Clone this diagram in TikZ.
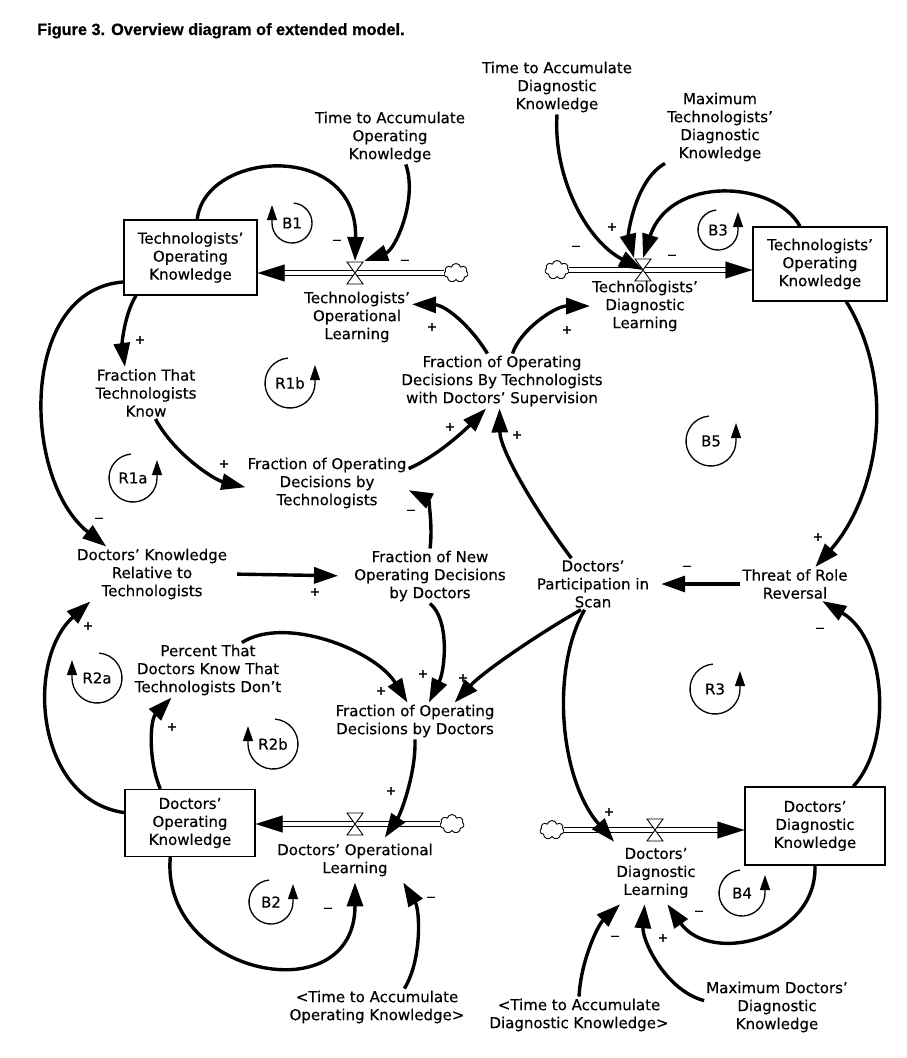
\documentclass[tikz,border=0pt]{standalone}
\usepackage{fontspec}
\setmainfont{DejaVu Sans}[FakeBold=0.35]
\newfontfamily\bodyfont{DejaVu Sans}[FakeBold=0.35,Ligatures=TeX]
\newfontfamily\titlefont{Liberation Sans Bold}[FakeBold=0.6]
\usetikzlibrary{arrows.meta,shapes.symbols,calc}
\begin{document}
\begin{tikzpicture}[x=1pt,y=-1pt,
  txt/.style={align=center, inner sep=2pt, font=\bodyfont\fontsize{15}{18}\selectfont},
  stock/.style={draw, line width=1.3pt, align=center, inner sep=0pt, font=\bodyfont\fontsize{15}{18}\selectfont},
  link/.style={line width=3.4pt, -{Triangle[length=24pt,width=16pt]}},
  pipe/.style={draw=black, double=white, double distance=3.6pt, line width=1.3pt, shorten >=24pt},
  pipetip/.style={draw=white, line width=0.3pt, -{Triangle[length=27pt,width=17pt,color=black]}},
  valve/.style={minimum width=18pt, minimum height=24pt, inner sep=0pt, outer sep=0pt,
    path picture={\draw[line width=.9pt, fill=white]
      ([shift={(1,1)}]path picture bounding box.north west) --
      ([shift={(-1,1)}]path picture bounding box.north east) --
      ([shift={(1,-1)}]path picture bounding box.south west) --
      ([shift={(-1,-1)}]path picture bounding box.south east) -- cycle;}},
  cloudy/.style={cloud, cloud puffs=7, aspect=1.3, draw, fill=white, line width=.9pt,
    minimum width=24pt, minimum height=19pt, inner sep=0pt},
  sgn/.style={font=\bodyfont\fontsize{12.5}{12.5}\selectfont, inner sep=0pt},
  looparc/.style={line width=1.3pt, -{Triangle[length=15pt,width=10pt]}},
  looplab/.style={font=\bodyfont\fontsize{15}{18}\selectfont, inner sep=0pt}
]
\path[fill=white] (0,0) rectangle (906,1058);

\node[anchor=base west, inner sep=0pt, font=\titlefont\fontsize{16.3}{18}\selectfont] (title) at (37,35) {Figure 3. Overview diagram of extended model.};

% stocks
\node[stock, minimum width=133pt, minimum height=75pt] (tok) at (190.5,257.5) {Technologists’\\Operating\\Knowledge};
\node[stock, minimum width=134pt, minimum height=74pt] (tdk) at (820,264) {Technologists’\\Operating\\Knowledge};
\node[stock, minimum width=130pt, minimum height=67pt] (dok) at (190,823) {Doctors’\\Operating\\Knowledge};
\node[stock, minimum width=140pt, minimum height=78pt] (ddk) at (815,826) {Doctors’\\Diagnostic\\Knowledge};

% clouds
\node[cloudy] (c1) at (456,273) {};
\node[cloudy] (c2) at (557,270) {};
\node[cloudy] (c3) at (452,824) {};
\node[cloudy] (c4) at (552,830) {};

% pipes
\draw[pipe] (c1.west) -- (tok.east |- c1.west);
\draw[pipetip] (c1.west) -- (tok.east |- c1.west);
\draw[pipe] (c2.east) -- (tdk.west |- c2.east);
\draw[pipetip] (c2.east) -- (tdk.west |- c2.east);
\draw[pipe] (c3.west) -- (dok.east |- c3.west);
\draw[pipetip] (c3.west) -- (dok.east |- c3.west);
\draw[pipe] (c4.east) -- (ddk.west |- c4.east);
\draw[pipetip] (c4.east) -- (ddk.west |- c4.east);

% valves
\node[valve] (v1) at (355,273) {};
\node[valve] (v2) at (643,270) {};
\node[valve] (v3) at (355,824) {};
\node[valve] (v4) at (655,830) {};

% variables
\node[txt] (tool) at (357,317) {Technologists’\\Operational\\Learning};
\node[txt] (ttaok) at (390,137) {Time to Accumulate\\Operating\\Knowledge};
\node[txt] (ttadk) at (557,87) {Time to Accumulate\\Diagnostic\\Knowledge};
\node[txt] (mtdk) at (720,127) {Maximum\\Technologists’\\Diagnostic\\Knowledge};
\node[txt] (tdl) at (645,306) {Technologists’\\Diagnostic\\Learning};
\node[txt] (ftk) at (146,393) {Fraction That\\Technologists\\Know};
\node[txt] (fsup) at (502,381) {Fraction of Operating\\Decisions By Technologists\\with Doctors’ Supervision};
\node[txt] (fodt) at (327,483) {Fraction of Operating\\Decisions by\\Technologists};
\node[txt] (dkr) at (152,574) {Doctors’ Knowledge\\Relative to\\Technologists};
\node[txt] (fnew) at (430,576) {Fraction of New\\Operating Decisions\\by Doctors};
\node[txt] (dps) at (593,584) {Doctors’\\Participation in\\Scan};
\node[txt] (trr) at (795,584) {Threat of Role\\Reversal};
\node[txt] (pdk) at (208,670) {Percent That\\Doctors Know That\\Technologists Don’t};
\node[txt] (fdd) at (415,721) {Fraction of Operating\\Decisions by Doctors};
\node[txt, inner ysep=6pt] (dol) at (355,860) {Doctors’ Operational\\Learning};
\node[txt, inner ysep=6pt] (ddl) at (656,873) {Doctors’\\Diagnostic\\Learning};
\node[txt] (ttaok2) at (377,1007) {<Time to Accumulate\\Operating Knowledge>};
\node[txt] (ttadk2) at (579,1015) {<Time to Accumulate\\Diagnostic Knowledge>};
\node[txt] (mddk) at (777,1007) {Maximum Doctors’\\Diagnostic\\Knowledge};

% links
\draw[link] (tok.80) .. controls (205,150) and (358,140) .. (v1.north);
\draw[link] (ttaok.-60) .. controls (418,200) and (395,250) .. (v1.north east);
\draw[link] (fsup.118) .. controls (470,325) and (445,305) .. (tool.13);
\draw[link] (fsup.69) .. controls (520,330) and (555,306) .. (tdl.west);
\draw[link] (ttadk.south) .. controls (553,175) and (585,240) .. (v2.center);
\draw[link] (mtdk.south west) .. controls (635,180) and (628,235) .. (v2.north west);
\draw[link] (tdk.118) .. controls (775,180) and (670,175) .. (v2.north);
\draw[link] (tdk.-55) .. controls (900,390) and (875,500) .. (trr.40);
\draw[link, shorten >=10pt] (trr.west) -- (dps.east);
\draw[link] (dps.130) .. controls (535,510) and (500,450) .. (fsup.265);
\draw[link] (fodt.10) .. controls (440,455) and (470,425) .. (fsup.240);
\draw[link] (tok.215) .. controls (124,315) and (122,345) .. (ftk.129);
\draw[link] (ftk.-70) .. controls (175,455) and (215,480) .. (fodt.183);
\draw[link] (tok.200) .. controls (18,290) and (22,480) .. (dkr.149);
\draw[link, shorten <=8pt, shorten >=14pt] (dkr.east) -- (fnew.west);
\draw[link] (fnew.north) .. controls (433,525) and (428,500) .. (fodt.-5);
\draw[link] (fnew.south) .. controls (450,620) and (445,670) .. (fdd.53);
\draw[link] (dps.245) .. controls (545,630) and (485,670) .. (fdd.25);
\draw[link] (dps.252) .. controls (550,670) and (560,780) .. (ddl.north west);
\draw[link] (pdk.39) .. controls (285,615) and (375,650) .. (fdd.112);
\draw[link] (dok.131) .. controls (148,760) and (150,720) .. (pdk.217);
\draw[link] (dok.171) .. controls (35,800) and (25,660) .. (dkr.204);
\draw[link] (fdd.south) .. controls (416,775) and (400,815) .. (dol.37);
\draw[link] (dok.240) .. controls (160,975) and (355,1015) .. (dol.south);
\draw[link] (ttaok2.34) .. controls (422,960) and (420,910) .. (dol.-25);
\draw[link] (ddk.46) .. controls (892,745) and (888,640) .. (trr.-32);
\draw[link] (ddk.south) .. controls (817,940) and (710,965) .. (ddl.-70);
\draw[link] (ttadk2.north) .. controls (581,960) and (598,925) .. (ddl.221);
\draw[link] (mddk.175) .. controls (665,990) and (642,940) .. (ddl.250);

% polarity signs
\node[sgn] (s1) at (337,242) {−};
\node[sgn] (s2) at (405,262) {−};
\node[sgn] (s3) at (432,327) {+};
\node[sgn] (s4) at (567,330) {+};
\node[sgn] (s5) at (576,248) {−};
\node[sgn] (s6) at (612,227) {+};
\node[sgn] (s7) at (672,257) {−};
\node[sgn] (s8) at (140,340) {+};
\node[sgn] (s9) at (224,464) {+};
\node[sgn] (s10) at (450,427) {+};
\node[sgn] (s11) at (517,435) {+};
\node[sgn] (s12) at (99,520) {−};
\node[sgn] (s13) at (411,512) {−};
\node[sgn] (s14) at (315,592) {+};
\node[sgn] (s15) at (687,568) {−};
\node[sgn] (s16) at (818,537) {+};
\node[sgn] (s17) at (820,630) {−};
\node[sgn] (s18) at (88,626) {+};
\node[sgn] (s19) at (172,727) {+};
\node[sgn] (s20) at (381,691) {+};
\node[sgn] (s21) at (423,674) {+};
\node[sgn] (s22) at (463,678) {+};
\node[sgn] (s23) at (391,791) {+};
\node[sgn] (s24) at (328,910) {−};
\node[sgn] (s25) at (431,899) {−};
\node[sgn] (s26) at (609,812) {+};
\node[sgn] (s27) at (699,913) {−};
\node[sgn] (s28) at (615,938) {−};
\node[sgn] (s29) at (663,938) {+};

% loop markers
\node[looplab] (lb1) at (292,223) {B1};
\draw[looparc] ([shift={(-85:20)}]lb1.center) arc[start angle=-85, end angle=180, radius=20] -- ++(0,-18);
\node[looplab] (lr1b) at (290,383) {R1b};
\draw[looparc] ([shift={(265:25)}]lr1b.center) arc[start angle=265, end angle=0, radius=25] -- ++(0,-18);
\node[looplab] (lr1a) at (133,478) {R1a};
\draw[looparc] ([shift={(265:24)}]lr1a.center) arc[start angle=265, end angle=0, radius=24] -- ++(0,-18);
\node[looplab] (lb3) at (718,230) {B3};
\draw[looparc] ([shift={(265:20)}]lb3.center) arc[start angle=265, end angle=0, radius=20] -- ++(0,-18);
\node[looplab] (lb5) at (711,441) {B5};
\draw[looparc] ([shift={(265:25)}]lb5.center) arc[start angle=265, end angle=0, radius=25] -- ++(0,-18);
\node[looplab] (lr2a) at (97,678) {R2a};
\draw[looparc] ([shift={(-85:25)}]lr2a.center) arc[start angle=-85, end angle=180, radius=25] -- ++(0,-18);
\node[looplab] (lr2b) at (273,744) {R2b};
\draw[looparc] ([shift={(-85:25)}]lr2b.center) arc[start angle=-85, end angle=180, radius=25] -- ++(0,-18);
\node[looplab] (lb2) at (271,902) {B2};
\draw[looparc] ([shift={(265:22)}]lb2.center) arc[start angle=265, end angle=0, radius=22] -- ++(0,-18);
\node[looplab] (lr3) at (715,689) {R3};
\draw[looparc] ([shift={(265:25)}]lr3.center) arc[start angle=265, end angle=0, radius=25] -- ++(0,-18);
\node[looplab] (lb4) at (742,893) {B4};
\draw[looparc] ([shift={(265:23)}]lb4.center) arc[start angle=265, end angle=0, radius=23] -- ++(0,-18);
\end{tikzpicture}
\end{document}
